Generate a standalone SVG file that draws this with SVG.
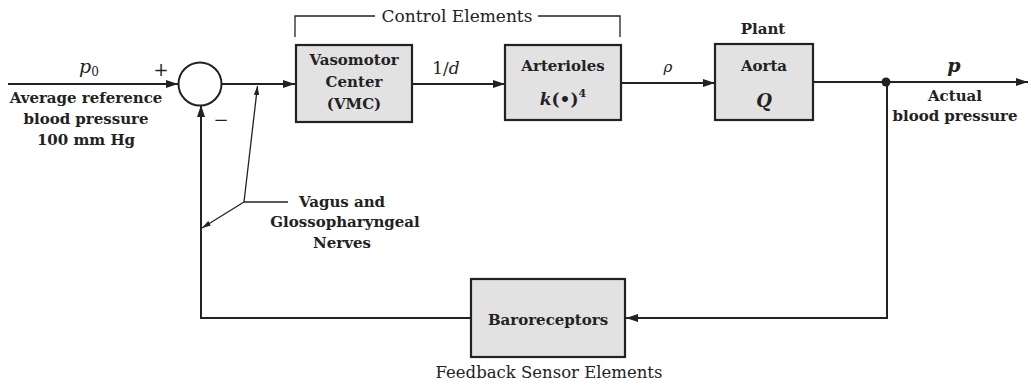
<svg xmlns="http://www.w3.org/2000/svg" width="1031" height="388" viewBox="0 0 1031 388">
<style>
.box{fill:#e2e2e2;stroke:#222;stroke-width:2.2}
.ln{fill:none;stroke:#222;stroke-width:2}
.thin{fill:none;stroke:#222;stroke-width:1.3}
text{font-family:"DejaVu Serif","Liberation Serif",serif;fill:#222;text-anchor:middle}
.b{font-weight:bold;font-size:15px}
.r{font-size:16px}
.i{font-style:italic;font-size:19px}
</style>
<defs>
<marker id="ah" viewBox="0 0 12 8" refX="12" refY="4" markerWidth="12" markerHeight="8" markerUnits="userSpaceOnUse" orient="auto">
<path d="M0,0 L12,4 L0,8 Z" fill="#222"/>
</marker>
<marker id="ahs" viewBox="0 0 10 6" refX="10" refY="3" markerWidth="9" markerHeight="6" markerUnits="userSpaceOnUse" orient="auto">
<path d="M0,0 L10,3 L0,6 Z" fill="#222"/>
</marker>
</defs>
<rect width="1031" height="388" fill="#fff"/>
<g id="connectors">
<line class="ln" x1="8" y1="84" x2="178" y2="84" marker-end="url(#ah)"/>
<line class="ln" x1="221" y1="84" x2="295" y2="84" marker-end="url(#ah)"/>
<line class="ln" x1="412" y1="84" x2="505" y2="84" marker-end="url(#ah)"/>
<line class="ln" x1="622" y1="83" x2="715" y2="83" marker-end="url(#ah)"/>
<line class="ln" x1="813" y1="82" x2="1028" y2="82" marker-end="url(#ah)"/>
<circle cx="886" cy="82" r="4.5" fill="#222"/>
<polyline class="ln" points="887,82 887,318 626,318" marker-end="url(#ah)"/>
<polyline class="ln" points="471,318 201,318 201,105" marker-end="url(#ah)"/>
<line class="thin" x1="244" y1="202" x2="288" y2="202"/>
<line class="thin" x1="244" y1="202" x2="257.5" y2="86" marker-end="url(#ahs)"/>
<line class="thin" x1="244" y1="202" x2="202" y2="228" marker-end="url(#ahs)"/>
<polyline class="thin" points="295,37 295,16 375,16"/>
<polyline class="thin" points="538,16 620,16 620,37"/>
</g>
<g id="sum">
<circle cx="200" cy="84" r="21.5" fill="#fff" stroke="#222" stroke-width="2"/>
<text class="r" x="161" y="76" style="font-size:18px">+</text>
<text class="r" x="221" y="126" style="font-size:18px">−</text>
</g>
<g id="input-label">
<text class="i" x="89" y="73">p<tspan font-size="12" dy="3" font-style="normal">0</tspan></text>
<text class="b" x="86" y="103">Average reference</text>
<text class="b" x="86" y="124">blood pressure</text>
<text class="b" x="86" y="145">100 mm Hg</text>
</g>
<g id="control-elements">
<text class="r" x="457" y="22" style="font-size:17px">Control Elements</text>
</g>
<g id="vmc">
<rect class="box" x="296" y="45" width="116" height="77"/>
<text class="b" x="354" y="65">Vasomotor</text>
<text class="b" x="354" y="87">Center</text>
<text class="b" x="354" y="109">(VMC)</text>
</g>
<text class="r" x="446" y="74" style="font-size:17px">1/<tspan font-style="italic">d</tspan></text>
<g id="arterioles">
<rect class="box" x="505" y="45" width="116" height="75"/>
<text class="b" x="563" y="71">Arterioles</text>
<text class="b" x="563" y="105" style="font-size:17px"><tspan font-style="italic">k</tspan>(•)<tspan font-size="11" dy="-8">4</tspan></text>
</g>
<text class="i" x="668" y="72" style="font-size:15px">ρ</text>
<g id="aorta">
<text class="b" x="763" y="34">Plant</text>
<rect class="box" x="715" y="44" width="98" height="76"/>
<text class="b" x="764" y="71">Aorta</text>
<text class="b" x="764" y="107" style="font-size:18px;font-style:italic">Q</text>
</g>
<g id="output-label">
<text class="i" x="954" y="72" style="font-weight:bold">p</text>
<text class="b" x="955" y="101">Actual</text>
<text class="b" x="955" y="121">blood pressure</text>
</g>
<g id="nerves">
<text class="b" x="342" y="207">Vagus and</text>
<text class="b" x="345" y="227">Glossopharyngeal</text>
<text class="b" x="342" y="248">Nerves</text>
</g>
<g id="baroreceptors">
<rect class="box" x="471" y="279" width="154" height="78"/>
<text class="b" x="548" y="325">Baroreceptors</text>
<text class="r" x="549" y="378" style="font-size:16.5px">Feedback Sensor Elements</text>
</g>
</svg>
